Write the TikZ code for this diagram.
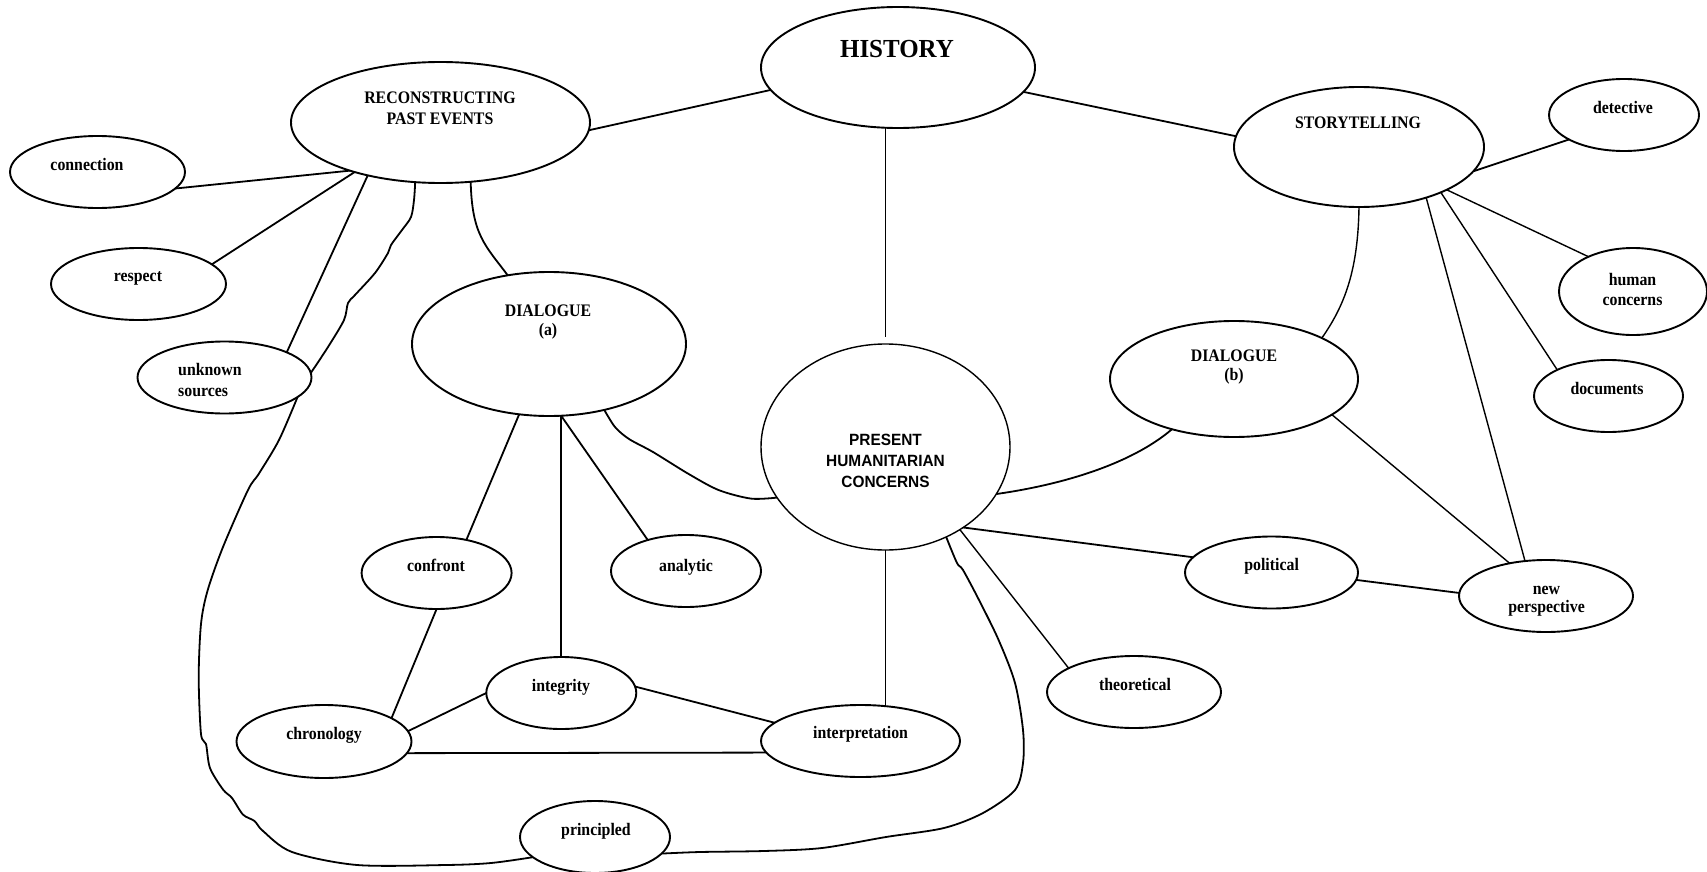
\documentclass[tikz,border=0pt]{standalone}
\usepackage{fontspec}
\setmainfont{Liberation Serif}
\newfontfamily\condserif[FakeStretch=0.9]{Liberation Serif}
\newfontfamily\histserif[FakeStretch=0.96]{Liberation Serif}
\newfontfamily\condsans[FakeStretch=0.945]{Liberation Sans}
\usetikzlibrary{shapes.geometric}
\begin{document}
\begin{tikzpicture}[x=1pt,y=-1pt,
  bub/.style={draw, ellipse, line width=1.9pt, inner sep=0pt, outer sep=0pt},
  con/.style={line width=1.8pt},
  thinl/.style={line width=1.4pt},
  lbl/.style={inner sep=0pt, align=center, font=\condserif\bfseries\fontsize{17.6}{21}\selectfont},
  wavy/.style={con, smooth, tension=0.5}]
\useasboundingbox[fill=white] (0,0) rectangle (1707,872);

% bubbles
\node[bub, minimum width=274pt, minimum height=121pt] (hist) at (898,67.5) {};
\node[bub, minimum width=299pt, minimum height=121pt] (recon) at (440.5,122.5) {};
\node[bub, minimum width=250pt, minimum height=120pt] (story) at (1359,147) {};
\node[bub, minimum width=150pt, minimum height=72pt] (det) at (1624,115) {};
\node[bub, minimum width=175pt, minimum height=72pt] (conn) at (97.5,172) {};
\node[bub, minimum width=175pt, minimum height=72pt] (resp) at (138.5,284) {};
\node[bub, minimum width=174pt, minimum height=72pt] (unk) at (224.5,377.5) {};
\node[bub, minimum width=274pt, minimum height=144pt] (dlga) at (549,344) {};
\node[bub, thinl, minimum width=249pt, minimum height=206pt] (pres) at (885.5,447) {};
\node[bub, minimum width=248pt, minimum height=116pt] (dlgb) at (1234,379) {};
\node[bub, minimum width=148pt, minimum height=87pt] (hum) at (1633,291.5) {};
\node[bub, minimum width=149pt, minimum height=72pt] (docs) at (1608.5,396) {};
\node[bub, minimum width=150pt, minimum height=72pt] (conf) at (436.6,573) {};
\node[bub, minimum width=150pt, minimum height=72pt] (anal) at (686,571) {};
\node[bub, minimum width=150pt, minimum height=72pt] (integ) at (561.3,693) {};
\node[bub, minimum width=175pt, minimum height=73pt] (chron) at (324,741.5) {};
\node[bub, minimum width=199pt, minimum height=72pt] (interp) at (860.5,741) {};
\node[bub, minimum width=150pt, minimum height=72pt] (princ) at (595,837) {};
\node[bub, minimum width=173pt, minimum height=72pt] (pol) at (1271.5,572.5) {};
\node[bub, minimum width=174pt, minimum height=72pt] (newp) at (1546,596) {};
\node[bub, minimum width=174pt, minimum height=72pt] (theo) at (1134,692) {};

% labels
\node[lbl, font=\histserif\bfseries\fontsize{26}{30}\selectfont] (thist) at (897,49) {HISTORY};
\node[lbl] (trecon) at (440,108) {RECONSTRUCTING\\PAST EVENTS};
\node[lbl] (tstory) at (1358,123) {STORYTELLING};
\node[lbl] (tdet) at (1623,107) {detective};
\node[lbl] (tconn) at (87,164) {connection};
\node[lbl] (tresp) at (138,278) {respect};
\node[lbl, align=left, anchor=west] (tunk) at (178,380) {unknown\\sources};
\node[lbl, font=\condserif\bfseries\fontsize{17.6}{18.5}\selectfont] (tdlga) at (548,322) {DIALOGUE\\(a)};
\node[lbl, font=\condsans\bfseries\fontsize{16.3}{21}\selectfont] (tpres) at (885.5,460.5) {PRESENT\\HUMANITARIAN\\CONCERNS};
\node[lbl, font=\condserif\bfseries\fontsize{17.6}{18.5}\selectfont] (tdlgb) at (1234,367) {DIALOGUE\\(b)};
\node[lbl, font=\condserif\bfseries\fontsize{17.6}{20}\selectfont] (thum) at (1632.5,289.6) {human\\concerns};
\node[lbl] (tdocs) at (1607,388) {documents};
\node[lbl] (tconf) at (436,565) {confront};
\node[lbl] (tanal) at (686,567) {analytic};
\node[lbl] (tinteg) at (561,687) {integrity};
\node[lbl] (tchron) at (324,735) {chronology};
\node[lbl] (tinterp) at (860.6,734) {interpretation};
\node[lbl] (tprinc) at (596,831) {principled};
\node[lbl] (tpol) at (1271.6,566) {political};
\node[lbl, font=\condserif\bfseries\fontsize{17.6}{18}\selectfont] (tnewp) at (1546.5,601) {new\\perspective};
\node[lbl] (ttheo) at (1135,684.5) {theoretical};

% connectors
\draw[con] (recon.357.5) -- (hist.190.3);
\draw[con] (hist.349.6) -- (story.175);
\draw[thinl] (pres.north |- hist.south) -- ([yshift=7pt]pres.north);
\draw[con] (conn.348.5) -- (recon.208.7);
\draw[con] (resp.15) -- (recon.210.5);
\draw[con] (unk.22) -- (recon.216.4);
\draw[wavy] plot coordinates {(recon.247.6) (414,200) (411,217) (402,230) (391,245) (388,253) (375,273) (355,295) (348,303) (344,320) (328,347) (unk.3)};
\draw[wavy] plot coordinates {(unk.345) (279,440) (259,473.5) (248,490) (223,547) (207.6,590.5) (201,624) (198.7,677.5) (201,734) (206,744) (210,768) (223,789.5) (232,798) (243,814.6) (254.5,821) (263,831) (292,852) (357,865) (446,865) (491,863) (princ.198)};
\draw[wavy] plot coordinates {(princ.346) (700,852) (764,851) (822,848) (886,837) (944,828) (983,813) (1015,790) (1023,763) (1023,730) (1015,683) (998.6,640) (979,600) (963,570) (957,563) (pres.304)};
\draw[con] (recon.297) .. controls (472,235) and (485,245) .. (dlga.121.3);
\draw[wavy] plot coordinates {(dlga.310) (615,427) (629,439) (653,452) (688,473.6) (718.5,490) (751,498.6) (pres.205)};
\draw[con] (dlga.247) -- (conf.48);
\coordinate (dlgab) at (integ.north |- dlga.south);
\draw[con] (dlgab) -- (integ.north);
\draw[con] (dlgab) -- (anal.141.5);
\draw[con] (conf.south) -- (chron.19.6);
\draw[con] (chron.7.7) -- (integ.west);
\draw[con] (chron.352.5) -- (interp.187.1);
\draw[con] (integ.5) -- (interp.168.7);
\draw[thinl] (pres.south) -- (pres.south |- interp.north);
\draw[con] (pres.314.8) -- (pol.169.1);
\draw[thinl] (pres.312.4) -- (theo.160.6);
\draw[con] (pol.355) -- (newp.178);
\draw[con] (dlgb.219.2) .. controls (1130,465) and (1060,485) .. (pres.337.4);
\draw[thinl] (dlgb.340.7) -- (newp.138.3);
\draw[thinl] (story.270) .. controls (1358,270) and (1345,305) .. (dlgb.25);
\draw[con] (story.348.2) -- (det.204.5);
\draw[thinl] (story.334.2) -- (hum.142.5);
\draw[thinl] (story.331) -- (docs.153.6);
\draw[thinl] (story.323.3) -- (newp.121.4);
\end{tikzpicture}
\end{document}
